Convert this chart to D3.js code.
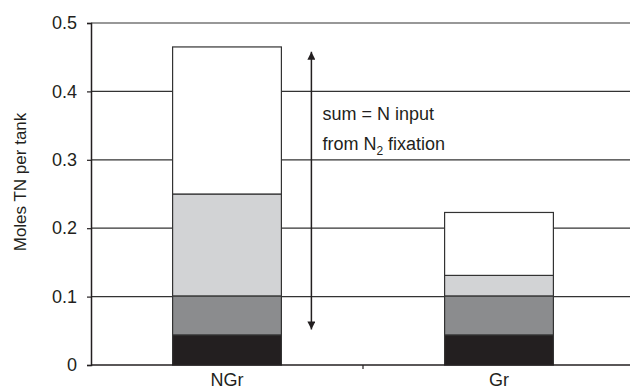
<!DOCTYPE html>
<html lang="en">
<head>
<meta charset="UTF-8">
<title>Moles TN per tank</title>
<script src="https://d3js.org/d3.v7.min.js"></script>
<style>
  body { margin: 0; background: #fff; }
  text { font-family: "Liberation Sans", Arial, sans-serif; fill: #231f20; }
</style>
</head>
<body>
<svg id="chart" width="630" height="390"></svg>
<script>
// data, bottom segment first
var categories = ["NGr", "Gr"];
var segBlack = [0.044, 0.044];
var segDark = [0.057, 0.057];
var segLight = [0.149, 0.030];
var segWhite = [0.215, 0.092];
var segColors = ["#231f20", "#8b8c8e", "#d2d3d5", "#ffffff"];
var yTicks = [0, 0.1, 0.2, 0.3, 0.4, 0.5];
var arrowFrom = 0.052, arrowTo = 0.458;

var svg = d3.select("#chart"),
    margin = { top: 23, right: -5, bottom: 25, left: 91 },
    width = +svg.attr("width") - margin.left - margin.right,
    height = +svg.attr("height") - margin.top - margin.bottom;

var g = svg.append("g").attr("transform", "translate(" + margin.left + "," + margin.top + ")");

var x = d3.scaleBand().domain(categories).range([0, width])
    .paddingInner(0.6).paddingOuter(0.3);
var y = d3.scaleLinear().domain([0, 0.5]).range([height, 0]);

// gridlines
g.append("g").selectAll("line")
    .data(yTicks.slice(1))
    .enter().append("line")
    .attr("x1", 0).attr("x2", width)
    .attr("y1", d => y(d)).attr("y2", d => y(d))
    .attr("stroke", "#333").attr("stroke-width", 1.2);

// stacked bars
var rows = categories.map(function (c, i) {
    return { cat: c, black: segBlack[i], dark: segDark[i], light: segLight[i], white: segWhite[i] };
});
var stack = d3.stack().keys(["black", "dark", "light", "white"])(rows);

g.append("g").selectAll("g")
    .data(stack)
    .enter().append("g")
    .attr("fill", (d, i) => segColors[i])
    .selectAll("rect")
    .data(d => d)
    .enter().append("rect")
    .attr("x", d => x(d.data.cat))
    .attr("width", x.bandwidth())
    .attr("y", d => y(d[1]))
    .attr("height", d => y(d[0]) - y(d[1]))
    .attr("stroke", "#333").attr("stroke-width", 1.2);

// axes
var yAxis = d3.axisLeft(y).tickValues(yTicks)
    .tickFormat(d => d === 0 ? "0" : d3.format(".1f")(d))
    .tickSize(4).tickPadding(10);
var ya = g.append("g").call(yAxis);
ya.select(".domain").attr("stroke", "#231f20").attr("stroke-width", 1.5);
ya.selectAll(".tick line").attr("stroke", "#231f20").attr("stroke-width", 1.2);
ya.selectAll("text").style("font-size", "18px").attr("fill", "#231f20");

g.append("line")
    .attr("x1", 0).attr("x2", width).attr("y1", height).attr("y2", height)
    .attr("stroke", "#231f20").attr("stroke-width", 1.5);
// boundary tick between categories
g.append("line")
    .attr("x1", x.step()).attr("x2", x.step())
    .attr("y1", height).attr("y2", height + 4)
    .attr("stroke", "#231f20").attr("stroke-width", 1.2);

g.append("g").selectAll("text")
    .data(categories)
    .enter().append("text")
    .attr("x", d => x(d) + x.bandwidth() / 2)
    .attr("y", height + 21)
    .attr("text-anchor", "middle")
    .style("font-size", "18px")
    .text(d => d);

// y label
svg.append("text")
    .attr("transform", "translate(26," + 182 + ") rotate(-90)")
    .attr("text-anchor", "middle")
    .style("font-size", "17px")
    .text("Moles TN per tank");

// double-headed arrow
var ax = x("NGr") + x.bandwidth() + 30;
var defs = svg.append("defs");
defs.append("marker").attr("id", "head")
    .attr("viewBox", "0 0 10 10").attr("refX", 10).attr("refY", 5)
    .attr("markerWidth", 8).attr("markerHeight", 8)
    .attr("markerUnits", "userSpaceOnUse")
    .attr("orient", "auto-start-reverse")
    .append("path").attr("d", "M0,0 L10,5 L0,10 z").attr("fill", "#231f20");
g.append("line")
    .attr("x1", ax).attr("x2", ax)
    .attr("y1", y(arrowFrom)).attr("y2", y(arrowTo))
    .attr("stroke", "#231f20").attr("stroke-width", 1.5)
    .attr("marker-start", "url(#head)").attr("marker-end", "url(#head)");

// annotation
var note = g.append("g").attr("transform", "translate(" + (ax + 11) + ",0)");
note.append("text").attr("y", 97).style("font-size", "18px").text("sum = N input");
var t2 = note.append("text").attr("y", 127).style("font-size", "18px");
t2.append("tspan").text("from N");
t2.append("tspan").attr("dy", 5).style("font-size", "12px").text("2");
t2.append("tspan").attr("dy", -5).text(" fixation");
</script>
</body>
</html>
